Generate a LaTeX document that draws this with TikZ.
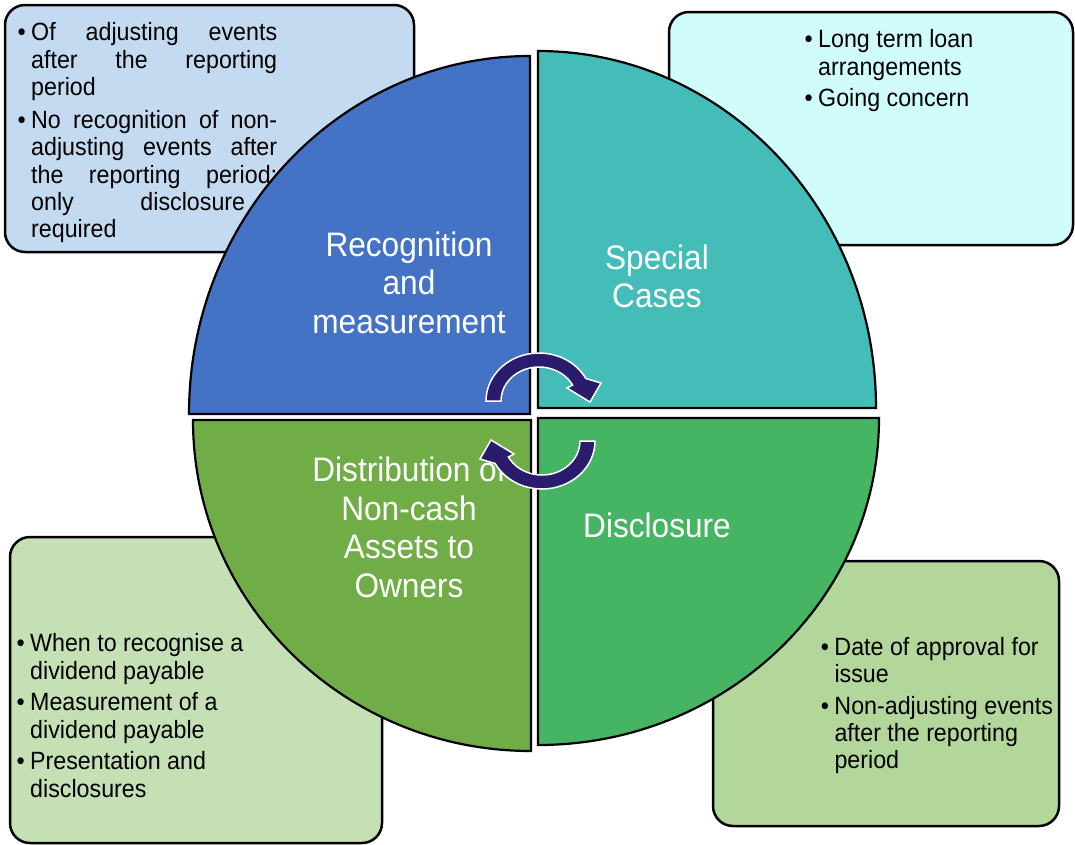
\documentclass[tikz,border=0pt]{standalone}
\usepackage{fontspec}
\setmainfont{Liberation Sans}[FakeStretch=0.93]
\definecolor{boxA}{HTML}{C3DAF0}
\definecolor{boxB}{HTML}{D0FCFC}
\definecolor{boxC}{HTML}{C5E0B4}
\definecolor{boxD}{HTML}{B3D69B}
\definecolor{qblue}{HTML}{4472C4}
\definecolor{qteal}{HTML}{44BDB8}
\definecolor{qolive}{HTML}{70AD47}
\definecolor{qgreen}{HTML}{46B563}
\definecolor{arrownavy}{HTML}{2A1B6C}
\tikzset{
  infobox/.style={draw=black, line width=2.5pt, rounded corners=20pt},
  quarter/.style={draw=black, line width=2.2pt, line join=miter},
  biglabel/.style={text=white, anchor=base, inner sep=0pt, font=\fontsize{34}{38.5}\selectfont},
  boxtext/.style={text=black, anchor=base west, inner sep=0pt, font=\fontsize{25}{27.3}\selectfont},
  cyclearrow/.style={fill=arrownavy, draw=white, line width=1.5pt, line join=miter},
}
\newcommand{\bitem}[1]{\par\noindent\llap{\textbullet\hspace{5.5pt}}#1}
\newcommand{\boxlist}[3]{\parbox[t]{#1}{\raggedright\setlength{\parskip}{#2}#3}}
\newcommand{\jline}[2]{\makebox[#1][s]{#2}}
\begin{document}
\begin{tikzpicture}[x=1pt, y=-1pt]
\useasboundingbox (0,0) rectangle (1075,844);
\fill[white] (0,0) rectangle (1075,844);
% info boxes
\path[infobox, fill=boxA] (5,5) rectangle (414,252);
\path[infobox, fill=boxB] (669,12) rectangle (1073,245);
\path[infobox, fill=boxC] (10,537) rectangle (382,843);
\path[infobox, fill=boxD] (713,561) rectangle (1059,826);
\node[boxtext] (tA) at (31,40.7) {\boxlist{250pt}{5.8pt}{%
  \bitem{\jline{246pt}{Of adjusting events}\\\jline{246pt}{after the reporting}\\period}
  \bitem{\jline{246pt}{No recognition of non-}\\\jline{246pt}{adjusting events after}\\\jline{246pt}{the reporting period;}\\\jline{214pt}{only disclosure}\\required}}};
\node[boxtext] (tB) at (818,47.7) {\boxlist{250pt}{4.4pt}{%
  \bitem{Long term loan\\arrangements}
  \bitem{Going concern}}};
\node[boxtext] (tC) at (30,651.7) {\boxlist{340pt}{4.4pt}{%
  \bitem{When to recognise a\\dividend payable}
  \bitem{Measurement of a\\dividend payable}
  \bitem{Presentation and\\disclosures}}};
\node[boxtext] (tD) at (834.3,655) {\boxlist{230pt}{4.4pt}{%
  \bitem{Date of approval for\\issue}
  \bitem{Non-adjusting events\\after the reporting\\period}}};
% quarters of the circle
\path[quarter, fill=qblue] (530,414) -- (189,414) arc[start angle=180, end angle=270, x radius=341, y radius=358] -- cycle;
\path[quarter, fill=qteal] (538,408) -- (538,51) arc[start angle=270, end angle=360, x radius=338, y radius=357] -- cycle;
\path[quarter, fill=qgreen] (538,418) -- (879,418) arc[start angle=0, end angle=90, x radius=341, y radius=327] -- cycle;
\path[quarter, fill=qolive] (531,420) -- (531,751) arc[start angle=90, end angle=180, x radius=338, y radius=331] -- cycle;
% labels
\node[biglabel] (lrec) at (409,256) {\parbox[t]{280pt}{\centering Recognition\\and\\measurement}};
\node[biglabel] (lspec) at (657,269.4) {\parbox[t]{280pt}{\centering Special\\Cases}};
\node[biglabel] (ldist) at (409,481.8) {\parbox[t]{280pt}{\centering Distribution of\\Non-cash\\Assets to\\Owners}};
\node[biglabel] (ldisc) at (657,537) {\parbox[t]{280pt}{\centering Disclosure}};
% cycle arrows
\begin{scope}[shift={(539,401)}]
\path[cyclearrow] (-53,0) arc[start angle=180, end angle=332, x radius=53, y radius=48] -- (62,-18) -- (51,1) -- (28,-13) -- (33.55,-15.96) arc[start angle=332, end angle=180, x radius=38, y radius=34] -- cycle;
\end{scope}
\begin{scope}[shift={(542,441)}, rotate=180]
\path[cyclearrow] (-53,0) arc[start angle=180, end angle=332, x radius=53, y radius=48] -- (62,-18) -- (51,1) -- (28,-13) -- (33.55,-15.96) arc[start angle=332, end angle=180, x radius=38, y radius=34] -- cycle;
\end{scope}
\end{tikzpicture}
\end{document}
